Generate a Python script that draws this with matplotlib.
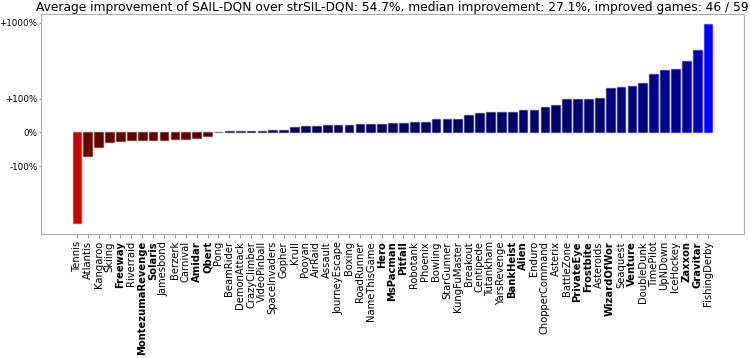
import matplotlib
matplotlib.use("Agg")
import matplotlib.pyplot as plt
import numpy as np

games = ["Tennis", "Atlantis", "Kangaroo", "Skiing", "Freeway", "Riverraid",
         "MontezumaRevenge", "Solaris", "Jamesbond", "Berzerk", "Carnival",
         "Amidar", "Qbert", "Pong", "BeamRider", "DemonAttack", "CrazyClimber",
         "VideoPinball", "SpaceInvaders", "Gopher", "Krull", "Pooyan", "AirRaid",
         "Assault", "JourneyEscape", "Boxing", "RoadRunner", "NameThisGame",
         "Hero", "MsPacman", "Pitfall", "Robotank", "Phoenix", "Bowling",
         "StarGunner", "KungFuMaster", "Breakout", "Centipede", "Tutankham",
         "YarsRevenge", "BankHeist", "Alien", "Enduro", "ChopperCommand",
         "Asterix", "BattleZone", "PrivateEye", "Frostbite", "Asteroids",
         "WizardOfWor", "Seaquest", "Venture", "DoubleDunk", "TimePilot",
         "UpNDown", "IceHockey", "Zaxxon", "Gravitar", "FishingDerby"]

# improvement in percent
improvement = [-569, -69, -43, -30, -26, -24, -22, -22, -22, -21, -21, -18, -10,
               0.3, 4, 5, 5, 5, 8, 8, 15, 20, 20, 22, 22, 23, 25, 25,
               25, 27, 28, 31, 31, 40, 41, 41, 50, 56, 59, 60, 60, 65,
               66, 75, 81, 98, 98, 99, 101,
               136, 142, 145, 159, 209, 235, 245, 310, 441, 961]

hard_games = ["Freeway", "MontezumaRevenge", "Solaris", "Amidar", "Qbert",
              "Hero", "MsPacman", "Pitfall", "BankHeist", "Alien", "PrivateEye",
              "Frostbite", "WizardOfWor", "Venture", "Zaxxon", "Gravitar"]

title = ("Average improvement of SAIL-DQN over strSIL-DQN: 54.7%, "
         "median improvement: 27.1%, improved games: 46 / 59")

vals = np.array(improvement, dtype=float)
vmax = np.abs(vals).max()
colors = []
edges = []
for v in vals:
    k = 0.3 + 0.7 * (abs(v) / vmax) ** 0.7
    c = (k, 0, 0) if v < 0 else (0, 0, k)
    colors.append(c)
    edges.append(c + (0.45,))

fig = plt.figure(figsize=(7.5, 3.58), dpi=100)
ax = fig.add_axes([0.0547, 0.346, 0.9373, 0.615])

x = np.arange(len(games))
ax.bar(x, vals, width=0.8, color=colors, edgecolor=edges, linewidth=1)

ax.set_yscale("symlog", linthresh=100, linscale=0.40)
ax.set_ylim(-787, 1303)
ax.set_xlim(-3.3, len(games) - 1 + 3.3)
ax.set_yticks([-100, 0, 100, 1000])
ax.set_yticklabels(["-100%", "0%", "+100%", "+1000%"])
ax.yaxis.set_minor_locator(matplotlib.ticker.NullLocator())
ax.set_xticks(x)
ax.set_xticklabels(games, rotation=90)
for lbl in ax.get_xticklabels():
    if lbl.get_text() in hard_games:
        lbl.set_fontweight("bold")

ax.tick_params(axis="x", labelsize=7.2, length=3, color="#999999", pad=2)
ax.tick_params(axis="y", labelsize=6.3, length=1.5, color="#999999", pad=1)
for s in ax.spines.values():
    s.set_color("#aaaaaa")

ax.set_title(title, fontsize=8.8, pad=2)

fig.savefig("out.png", dpi=100)
